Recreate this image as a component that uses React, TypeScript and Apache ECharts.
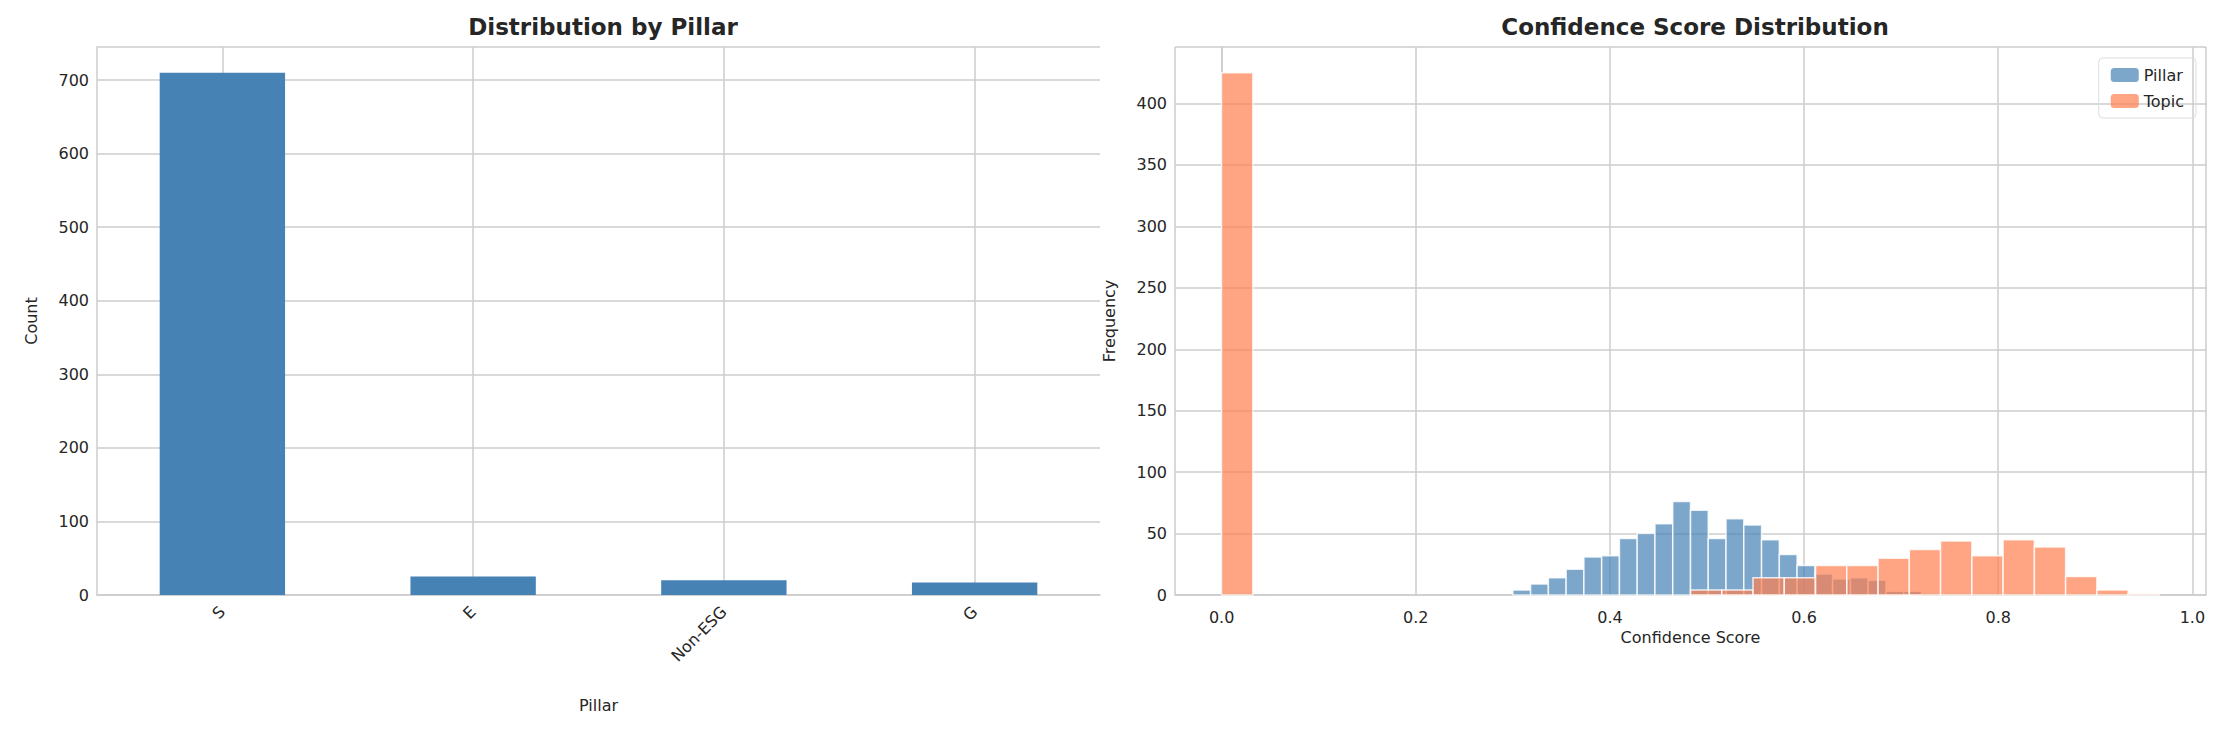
import { useEffect, useRef } from 'react';
import * as echarts from 'echarts';

const pillars = ['S', 'E', 'Non-ESG', 'G'];
const pillarCounts = [710, 25, 20, 17];

// Pillar confidence histogram: bins start at 0.30, width ~0.0183
const pillarBinStart = 0.3;
const pillarBinWidth = 0.0183;
const pillarHist = [4, 9, 14, 21, 31, 32, 46, 50, 58, 76, 69, 46, 62, 57, 45, 33, 24, 17, 13, 14, 12, 3, 3];

// Topic confidence histogram: 30 bins from 0 to 0.966
const topicBinStart = 0;
const topicBinWidth = 0.0322;
const topicHist = [425, 0, 0, 0, 0, 0, 0, 0, 0, 0, 0, 0, 0, 0, 0, 4, 4, 14, 14, 24, 24, 30, 37, 44, 32, 45, 39, 15, 4, 1];

const font = 'DejaVu Sans';
const txt = '#262626';
const gridC = '#cccccc';

function toRects(counts: number[], start: number, width: number) {
  return counts.map((c, i) => [start + i * width, start + (i + 1) * width, c]);
}

function histSeries(name: string, data: number[][], color: string) {
  return {
    type: 'custom',
    name,
    xAxisIndex: 1,
    yAxisIndex: 1,
    encode: { x: [0, 1], y: 2 },
    data,
    itemStyle: { color },
    renderItem: (params: any, api: any) => {
      if (!api.value(2)) return null;
      const p0 = api.coord([api.value(0), api.value(2)]);
      const p1 = api.coord([api.value(1), 0]);
      return {
        type: 'rect',
        shape: { x: p0[0], y: p0[1], width: p1[0] - p0[0], height: p1[1] - p0[1] },
        style: { fill: color, stroke: 'rgba(255,255,255,0.8)', lineWidth: 1.5 },
      };
    },
  };
}

export default function App() {
  const ref = useRef<HTMLDivElement>(null);

  useEffect(() => {
    document.body.style.margin = '0';
    const chart = echarts.init(ref.current!, null, { renderer: 'svg' });
    const axisCommon = {
      axisLine: { show: true, lineStyle: { color: gridC, width: 1.5 } },
      axisTick: { show: false },
      splitLine: { show: true, lineStyle: { color: gridC, width: 1.5 } },
      axisLabel: { color: txt, fontSize: 16, fontFamily: font },
      nameTextStyle: { color: txt, fontSize: 16, fontFamily: font },
    };
    chart.setOption({
      animation: false,
      backgroundColor: '#ffffff',
      title: [
        { text: 'Distribution by Pillar', left: 598, top: 10, textAlign: 'center',
          textStyle: { fontSize: 23, fontWeight: 'bold', color: txt, fontFamily: font } },
        { text: 'Confidence Score Distribution', left: 1690, top: 10, textAlign: 'center',
          textStyle: { fontSize: 23, fontWeight: 'bold', color: txt, fontFamily: font } },
      ],
      legend: {
        data: ['Pillar', 'Topic'],
        orient: 'vertical',
        right: 36,
        top: 58,
        itemWidth: 28,
        itemHeight: 14,
        itemGap: 10,
        padding: [9, 12],
        borderColor: '#dddddd',
        borderWidth: 1,
        borderRadius: 4,
        textStyle: { color: txt, fontSize: 16, fontFamily: font },
      },
      grid: [
        { left: 97, right: 2232 - 1100, top: 47, bottom: 732 - 595 },
        { left: 1175, right: 2232 - 2206, top: 47, bottom: 732 - 595 },
      ],
      xAxis: [
        { ...axisCommon, type: 'category', gridIndex: 0, data: pillars,
          splitLine: { show: false },
          name: 'Pillar', nameLocation: 'middle', nameGap: 102,
          axisLabel: { ...axisCommon.axisLabel, rotate: 45, margin: 14 } },
        { ...axisCommon, type: 'value', gridIndex: 1, min: -0.048, max: 1.014, splitNumber: 5,
          name: 'Confidence Score', nameLocation: 'middle', nameGap: 34,
          axisLabel: { ...axisCommon.axisLabel, margin: 14,
            formatter: (v: number) => (v < 0 || v > 1.001 ? '' : v.toFixed(1)) } },
      ],
      yAxis: [
        { ...axisCommon, type: 'value', gridIndex: 0, min: 0, max: 745, interval: 100,
          name: 'Count', nameLocation: 'middle', nameGap: 58,
          axisLabel: { ...axisCommon.axisLabel, showMaxLabel: false } },
        { ...axisCommon, type: 'value', gridIndex: 1, min: 0, max: 446, interval: 50,
          name: 'Frequency', nameLocation: 'middle', nameGap: 58,
          axisLabel: { ...axisCommon.axisLabel, showMaxLabel: false } },
      ],
      series: [
        { type: 'bar', xAxisIndex: 0, yAxisIndex: 0, data: pillarCounts, barWidth: '50%',
          itemStyle: { color: '#4682b4' }, z: 3,
          markLine: {
            silent: true, symbol: 'none', z: 1, label: { show: false },
            lineStyle: { color: gridC, width: 1.5, type: 'solid' },
            data: pillars.map((p) => ({ xAxis: p })),
          } },
        histSeries('Pillar', toRects(pillarHist, pillarBinStart, pillarBinWidth), 'rgba(70,130,180,0.7)'),
        histSeries('Topic', toRects(topicHist, topicBinStart, topicBinWidth), 'rgba(255,127,80,0.7)'),
      ],
    });
    return () => chart.dispose();
  }, []);

  return <div ref={ref} style={{ width: 2232, height: 732 }} />;
}
